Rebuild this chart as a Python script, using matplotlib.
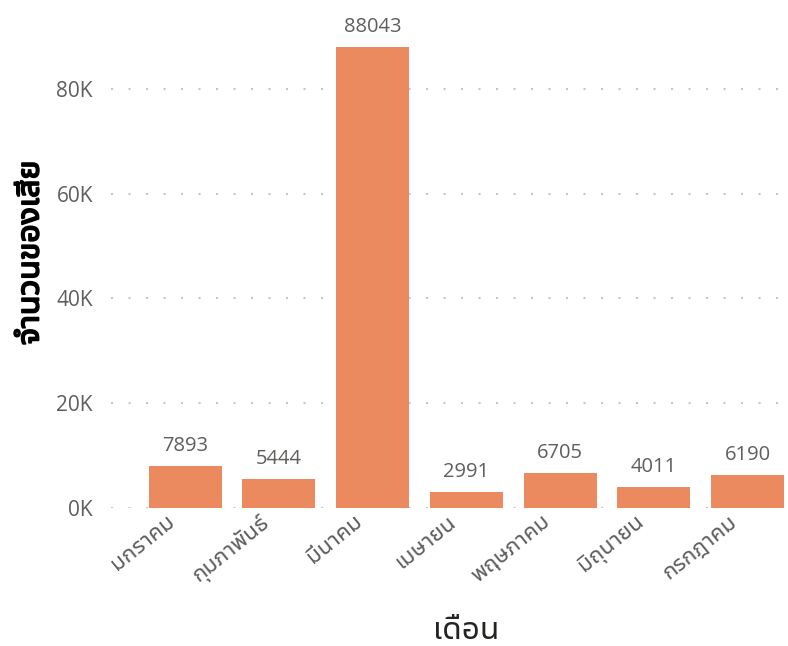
import matplotlib
matplotlib.use("Agg")
import matplotlib.pyplot as plt
import matplotlib.patheffects as pe
from matplotlib.transforms import ScaledTranslation

# Monthly defect counts
months = ["มกราคม", "กุมภาพันธ์", "มีนาคม", "เมษายน", "พฤษภาคม", "มิถุนายน", "กรกฎาคม"]
defects = [7893, 5444, 88043, 2991, 6705, 4011, 6190]
y_ticks = [0, 20000, 40000, 60000, 80000]
y_tick_labels = ["0K", "20K", "40K", "60K", "80K"]

LATIN = ["Open Sans", "Noto Sans Thai UI", "DejaVu Sans"]
THAI = ["Noto Sans Thai UI", "Noto Sans Thai", "DejaVu Sans"]
plt.rcParams["font.family"] = LATIN

BAR = "#EB895F"
TICK = "#605E5C"
GRID = "#C8C6C4"

fig = plt.figure(figsize=(7.88, 6.46), dpi=100)
ax = fig.add_axes([111 / 788, 1 - 507.7 / 646, 675 / 788, 497.2 / 646])

x = range(len(months))
ax.bar(x, defects, width=0.78, color=BAR, zorder=2)

for xi, v in zip(x, defects):
    ax.annotate(f"{v}", (xi, v), xytext=(0, 10.8), textcoords="offset points",
                ha="center", va="baseline", fontsize=14.5, color=TICK)

ax.set_xlim(-0.79, 6.41)
ax.set_ylim(0, 95000)
ax.set_yticks(y_ticks)
ax.set_yticklabels(y_tick_labels)
ax.set_xticks(list(x))
ax.set_xticklabels(months, rotation=39, ha="right", va="top", rotation_mode="anchor",
                   family=THAI, fontsize=16.3)

ax.tick_params(axis="both", length=0, labelcolor=TICK)
ax.tick_params(axis="y", pad=13, labelsize=15)
ax.tick_params(axis="x", pad=2.5)
shift = ScaledTranslation(-19 / 100, 0, fig.dpi_scale_trans)
for lbl in ax.get_xticklabels():
    lbl.set_transform(lbl.get_transform() + shift)

ax.yaxis.grid(True, color=GRID, linestyle=(0, (1, 7.4)), linewidth=1.5, zorder=0)
ax.set_axisbelow(True)
for s in ax.spines.values():
    s.set_visible(False)

# heavier stroke gives the Thai axis title a bold look
ax.set_ylabel("จำนวนของเสีย", fontsize=23, color="#000000", family=THAI,
              path_effects=[pe.withStroke(linewidth=1.3, foreground="#000000")])
ax.yaxis.label.set_va("center")
ax.yaxis.set_label_coords(-0.12, 0.513)

ax.set_xlabel("เดือน", fontsize=22.8, color="#252423", family=THAI)
ax.xaxis.label.set_va("center")
ax.xaxis.set_label_coords(0.526, -0.247)

fig.savefig("out.png", dpi=100)
